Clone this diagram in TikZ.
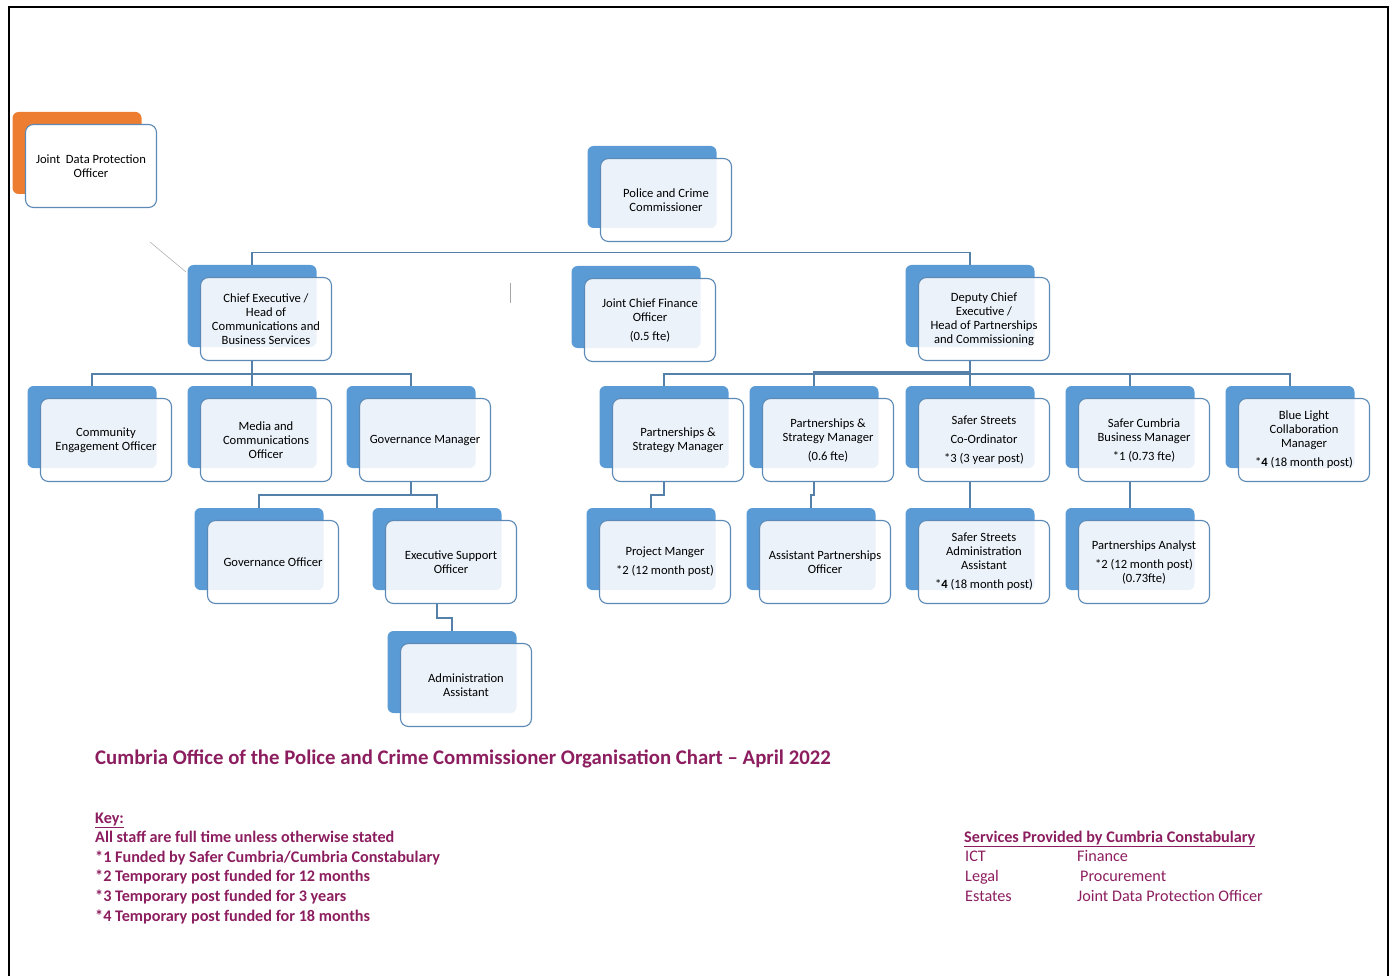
\documentclass[tikz,border=0pt]{standalone}
\usepackage{fontspec}
\setmainfont{Carlito}

\definecolor{postblue}{RGB}{91,155,213}
\definecolor{postorange}{RGB}{237,125,49}
\definecolor{frameblue}{RGB}{92,138,182}
\definecolor{linkblue}{RGB}{84,128,170}
\definecolor{keypurple}{RGB}{140,30,95}

\tikzset{
  postback/.style={fill=postblue, rounded corners=6pt, minimum width=129pt,
    minimum height=82pt, inner sep=0pt},
  postfront/.style={draw=frameblue, line width=1.1pt, fill=white, fill opacity=0.88,
    text opacity=1, rounded corners=8pt, minimum width=131pt, minimum height=83pt,
    inner sep=0pt, align=center, font=\fontsize{12.6}{14}\selectfont},
  link/.style={draw=linkblue, line width=1.3pt},
  keytext/.style={anchor=base west, inner sep=0pt, text=keypurple,
    font=\fontsize{16.2}{19}\selectfont\bfseries},
  servtext/.style={anchor=base west, inner sep=0pt, text=keypurple,
    font=\fontsize{16.2}{19}\selectfont},
}

\begin{document}
\begin{tikzpicture}[x=1pt,y=-1pt]
  \useasboundingbox (0,0) rectangle (1394,976);
  % page frame
  \draw[line width=2pt] (9,976) -- (9,7) -- (1388,7) -- (1388,976);

  % data protection officer (orange)
  \node[postback, fill=postorange] (jdpo-b) at (77,153) {};
  \node[postfront, fill opacity=1] (jdpo) at (91,166) {Joint\ \ Data Protection\\Officer};

  % posts: name/x/y/text (x,y = centre of front box)
  \foreach \n/\x/\y/\t in {
      pcc/666/200/{Police and Crime\\Commissioner},
      ce/266/319/{Chief Executive /\\Head of\\Communications and\\Business Services},
      jcfo/650/320/{Joint Chief Finance\\Officer\\[5pt](0.5 fte)},
      dce/984/319/{Deputy Chief\\Executive /\\Head of Partnerships\\and Commissioning},
      ceo/106/440/{Community\\Engagement Officer},
      mco/266/440/{Media and\\Communications\\Officer},
      gm/425/440/{Governance Manager},
      go/273/562/{Governance Officer},
      eso/451/562/{Executive Support\\Officer},
      adm/466/685/{Administration\\Assistant},
      psm/678/440/{Partnerships \&\\Strategy Manager},
      psmb/828/440/{Partnerships \&\\Strategy Manager\\[5pt](0.6 fte)},
      ssc/984/440/{Safer Streets\\[5pt]Co-Ordinator\\[5pt]*3 (3 year post)},
      scbm/1144/440/{Safer Cumbria\\Business Manager\\[5pt]*1 (0.73 fte)},
      blcm/1304/440/{Blue Light\\Collaboration\\Manager\\[5pt]*\textbf{4} (18 month post)},
      pm/665/562/{Project Manger\\[5pt]*2 (12 month post)},
      apo/825/562/{Assistant Partnerships\\Officer},
      ssaa/984/562/{Safer Streets\\Administration\\Assistant\\[5pt]*\textbf{4} (18 month post)},
      pa/1144/562/{Partnerships Analyst\\[5pt]*2 (12 month post)\\(0.73fte)}}
  {
    \node[postback] (\n-b) at ({\x-14},{\y-13}) {};
    \node[postfront] (\n) at (\x,\y) {\t};
  }

  % connectors
  \draw[link] (ce-b.north) -- ++(0,-12) -| (dce-b.north);
  \draw[link] (ce-b.south |- ce.south) -- ++(0,13) -| (ceo-b.north);
  \draw[link] (ce-b.south |- ce.south) -- ++(0,13) -| (gm-b.north);
  \draw[link] (ce-b.south |- ce.south) -- (mco-b.north);
  \draw[link] (gm-b.south |- gm.south) -- ++(0,13) -| (go-b.north);
  \draw[link] (gm-b.south |- gm.south) -- ++(0,13) -| (eso-b.north);
  \draw[link] (eso-b.south |- eso.south) -- ++(0,14) -| (adm-b.north);
  \draw[link] (dce-b.south |- dce.south) -- ++(0,13) -| (psm-b.north);
  \draw[link] (dce-b.south |- dce.south) -- ++(0,11) -| (psmb-b.north);
  \draw[link] (dce-b.south |- dce.south) -- (ssc-b.north);
  \draw[link] (dce-b.south |- dce.south) -- ++(0,13) -| (scbm-b.north);
  \draw[link] (dce-b.south |- dce.south) -- ++(0,13) -| (blcm-b.north);
  \draw[link] (psm-b.south |- psm.south) -- ++(0,13) -| (pm-b.north);
  \draw[link] (psmb-b.south |- psmb.south) -- ++(0,13) -| (apo-b.north);
  \draw[link] (ssc-b.south |- ssc.south) -- (ssaa-b.north);
  \draw[link] (scbm-b.south |- scbm.south) -- (pa-b.north);
  % stray marks
  \draw[gray!60, line width=0.6pt] (150,242) -- (186,272);
  \draw[gray!70, line width=1pt] (510,283) -- (510,303);

  % title and key
  \node[anchor=base west, inner sep=0pt, text=keypurple,
    font=\fontsize{20.8}{24}\selectfont\bfseries] (title) at (95,764)
    {Cumbria Office of the Police and Crime Commissioner Organisation Chart -- April 2022};
  \foreach \t [count=\i from 0] in {
      \underline{Key:},
      All staff are full time unless otherwise stated,
      *1 Funded by Safer Cumbria/Cumbria Constabulary,
      *2 Temporary post funded for 12 months,
      *3 Temporary post funded for 3 years,
      *4 Temporary post funded for 18 months}
    \node[keytext] (key\i) at (95,{823+19.6*\i}) {\t};

  % services
  \node[servtext, font=\fontsize{16.2}{19}\selectfont\bfseries] (serv) at (964,842)
    {\underline{Services Provided by Cumbria Constabulary}};
  \node[servtext] (ict) at (965,861) {ICT};
  \node[servtext] (fin) at (1077,861) {Finance};
  \node[servtext] (leg) at (965,881) {Legal};
  \node[servtext] (proc) at (1080,881) {Procurement};
  \node[servtext] (est) at (965,901) {Estates};
  \node[servtext] (jdp) at (1077,901) {Joint Data Protection Officer};
\end{tikzpicture}
\end{document}
